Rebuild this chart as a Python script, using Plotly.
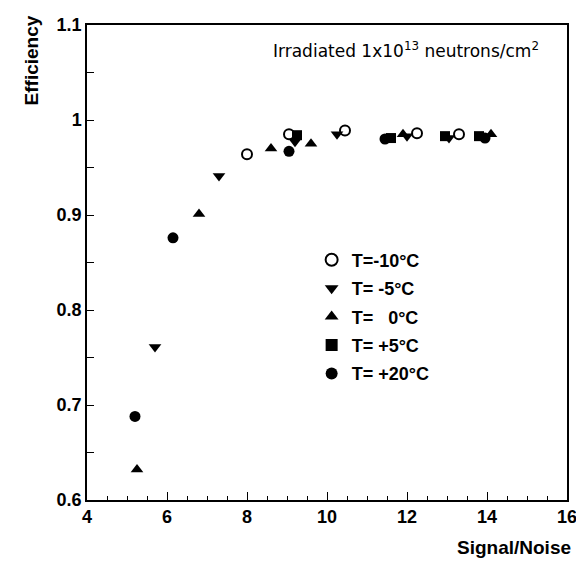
import plotly.graph_objects as go

# Data (Signal/Noise, Efficiency)
m10_x = [8.0, 9.05, 10.45, 12.25, 13.3]
m10_y = [0.964, 0.985, 0.989, 0.986, 0.985]

m5_x = [5.7, 7.3, 9.2, 10.25, 12.0, 13.05]
m5_y = [0.761, 0.941, 0.977, 0.985, 0.983, 0.981]

z0_x = [5.25, 6.8, 8.6, 9.6, 11.9, 14.1]
z0_y = [0.632, 0.901, 0.970, 0.975, 0.985, 0.985]

p5_x = [9.25, 11.6, 12.95, 13.8]
p5_y = [0.984, 0.981, 0.983, 0.983]

p20_x = [5.2, 6.15, 9.05, 11.45, 13.95]
p20_y = [0.688, 0.876, 0.967, 0.980, 0.981]

names = ["T=-10°C", "T=\u00a0-5°C", "T=\u00a0\u00a0\u00a00°C", "T=\u00a0+5°C", "T=\u00a0+20°C"]

fig = go.Figure()
series = [
    (m10_x, m10_y, dict(symbol="circle-open", size=10, color="black", line=dict(width=2, color="black"))),
    (m5_x, m5_y, dict(symbol="triangle-down", size=11, color="black")),
    (z0_x, z0_y, dict(symbol="triangle-up", size=11, color="black")),
    (p5_x, p5_y, dict(symbol="square", size=10, color="black")),
    (p20_x, p20_y, dict(symbol="circle", size=11, color="black")),
]
for i, (xs, ys, mk) in enumerate(series):
    fig.add_trace(go.Scatter(x=xs, y=ys, mode="markers", marker=mk, name=names[i],
                             legendgroup=f"g{i}"))

axis_font = dict(family="Liberation Sans, Arial, sans-serif", size=18, color="black", weight="bold")

fig.update_layout(
    width=576, height=553,
    margin=dict(l=79, r=7, t=12, b=61),
    plot_bgcolor="white", paper_bgcolor="white",
    showlegend=True,
    legend=dict(x=0.468, y=0.544, xanchor="left", yanchor="top",
                bgcolor="rgba(0,0,0,0)", traceorder="grouped", tracegroupgap=2,
                font=dict(family="Liberation Sans, Arial, sans-serif", size=18, color="black", weight="bold"),
                itemsizing="constant"),
    xaxis=dict(range=[4, 16], tick0=4, dtick=2, showgrid=False, zeroline=False,
               showline=True, linecolor="black", linewidth=1.5, mirror=True,
               ticks="inside", ticklen=8, tickcolor="black", tickwidth=1,
               minor=dict(dtick=0.5, ticks="inside", ticklen=4, tickcolor="black", showgrid=False),
               tickfont=axis_font, ticklabeloverflow="allow"),
    yaxis=dict(range=[0.6, 1.1], tick0=0.6, dtick=0.1, showgrid=False, zeroline=False,
               showline=True, linecolor="black", linewidth=1.5, mirror=True,
               ticks="inside", ticklen=7, tickcolor="black", tickwidth=1,
               minor=dict(dtick=0.05, ticks="inside", ticklen=7, tickcolor="black", showgrid=False),
               tickfont=axis_font, ticklabeloverflow="allow"),
    annotations=[
        dict(text="Irradiated 1x10<sup>13</sup> neutrons/cm<sup>2</sup>", x=0.945, y=0.948,
             xref="paper", yref="paper", xanchor="right", yanchor="middle", showarrow=False,
             font=dict(family="DejaVu Sans, sans-serif", size=17, color="black")),
        dict(text="<b>Efficiency</b>", x=-0.116, y=1.025, xref="paper", yref="paper", showarrow=False,
             xanchor="center", yanchor="top", textangle=-90,
             font=dict(family="Liberation Sans, Arial, sans-serif", size=19, color="black")),
        dict(text="<b>Signal/Noise</b>", x=1.012, y=-0.1, xref="paper", yref="paper",
             xanchor="right", yanchor="middle", showarrow=False,
             font=dict(family="Liberation Sans, Arial, sans-serif", size=19, color="black")),
    ],
)

fig.write_html("out.html")
